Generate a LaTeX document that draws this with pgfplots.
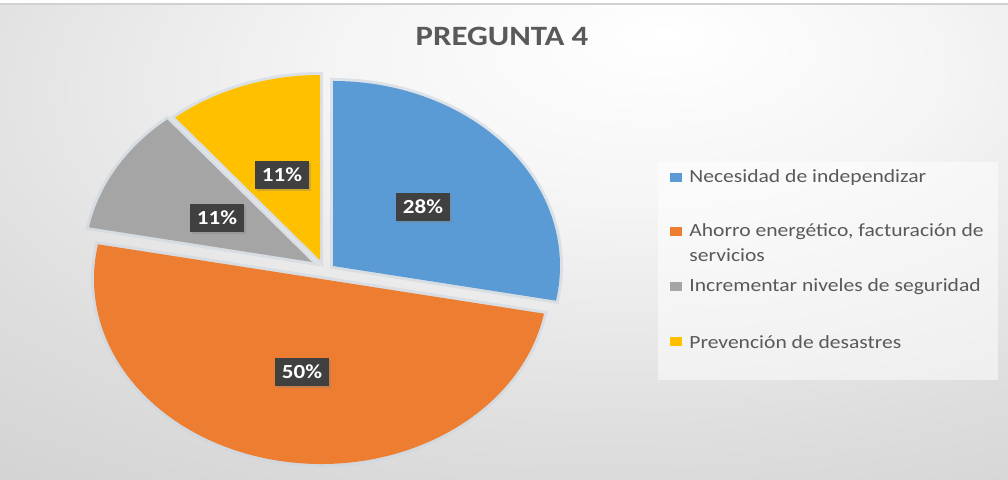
\documentclass[border=0pt]{standalone}
\usepackage{pgfplots}
\pgfplotsset{compat=1.18}
\usepackage{pgfplotstable}
\usepackage{fontspec}
\setmainfont{Carlito}
\usetikzlibrary{shadows}
\definecolor{cBlue}{HTML}{5B9BD5}
\definecolor{cOrange}{HTML}{ED7D31}
\definecolor{cGray}{HTML}{A5A5A5}
\definecolor{cYellow}{HTML}{FFC000}
\definecolor{txt}{HTML}{595959}
\definecolor{lbl}{HTML}{404040}
\definecolor{halo}{HTML}{CDD6DF}
\pgfdeclareradialshading{bgshade}{\pgfpoint{8bp}{22bp}}{color(0bp)=(white); color(15bp)=(white!96!black); color(35bp)=(white!87!black); color(55bp)=(white!80!black); color(100bp)=(white!77!black)}

% pie data (percent)
\pgfplotstableread{
slice value
1 28
2 50
3 11
4 11
}\piedata

\newcommand\slice[5]{%
  \fill[#1, preaction={draw=halo, line width=3pt, opacity=0.6}]
    (axis cs:#2,#3) -- ++(#4:113.5pt and 92.5pt)
    arc[start angle=#4, end angle=#5, x radius=113.5pt, y radius=92.5pt] -- cycle;}

\tikzset{lbllabel/.style={fill=lbl, text=white, font=\fontsize{10}{12}\selectfont\bfseries,
  inner xsep=3.5pt, inner ysep=0pt, minimum height=14pt,
  drop shadow={shadow xshift=0.8pt, shadow yshift=-0.8pt, opacity=0.35}},
  legtext/.style={anchor=west, text=txt, font=\fontsize{9.3}{11}\selectfont, inner sep=0pt}}

\begin{document}
\begin{tikzpicture}
\pgfplotstablegetelem{0}{value}\of\piedata\let\vA\pgfplotsretval
\pgfplotstablegetelem{1}{value}\of\piedata\let\vB\pgfplotsretval
\pgfplotstablegetelem{2}{value}\of\piedata\let\vC\pgfplotsretval
\pgfplotstablegetelem{3}{value}\of\piedata\let\vD\pgfplotsretval
\pgfmathsetmacro\sA{90}
\pgfmathsetmacro\eA{\sA-3.6*\vA}
\pgfmathsetmacro\eB{\eA-3.6*\vB}
\pgfmathsetmacro\eC{\eB-3.6*\vC}
\pgfmathsetmacro\eD{\eC-3.6*\vD}
\begin{axis}[x=0.5pt, y=0.5pt, xmin=0, xmax=1008, ymin=0, ymax=480,
  hide axis, clip=false]
  \coordinate (BL) at (axis cs:0,0);
  \coordinate (TR) at (axis cs:1008,480);
  % background
  \shade[shading=bgshade] (axis cs:0,0) rectangle (axis cs:1008,476);
  \fill[white] (axis cs:0,476) rectangle (axis cs:1008,480);
  \draw[white!82!black, line width=0.6pt] (axis cs:0,476) -- (axis cs:1008,476);
  % title
  \node[text=txt, font=\fontsize{14}{16}\selectfont\bfseries] at (axis cs:502,444)
    {\scalebox{1.17}[1]{PREGUNTA 4}};
  % slices
  \slice{cBlue}{333}{214}{\sA}{\eA}
  \slice{cOrange}{321}{201}{\eA}{\eB}
  \slice{cGray}{312}{218}{\eB}{\eC}
  \slice{cYellow}{320}{220}{\eC}{\eD}
  % data labels
  \node[lbllabel] at (axis cs:423,273) {\scalebox{1.15}[1]{28\%}};
  \node[lbllabel] at (axis cs:302,108) {\scalebox{1.15}[1]{50\%}};
  \node[lbllabel] at (axis cs:217,262) {\scalebox{1.15}[1]{11\%}};
  \node[lbllabel] at (axis cs:282,305) {\scalebox{1.15}[1]{11\%}};
  % legend
  \fill[white, opacity=0.5] (axis cs:658,100) rectangle (axis cs:998,318);
  \fill[cBlue]   (axis cs:670,298) rectangle (axis cs:682,307);
  \fill[cOrange] (axis cs:670,244) rectangle (axis cs:682,253);
  \fill[cGray]   (axis cs:670,189) rectangle (axis cs:682,198);
  \fill[cYellow] (axis cs:670,134) rectangle (axis cs:682,143);
  \node[legtext] at (axis cs:689,302) {\scalebox{1.16}[1]{Necesidad de independizar}};
  \node[legtext] at (axis cs:689,248) {\scalebox{1.16}[1]{Ahorro energético, facturación de}};
  \node[legtext] at (axis cs:689,225) {\scalebox{1.16}[1]{servicios}};
  \node[legtext] at (axis cs:689,193) {\scalebox{1.16}[1]{Incrementar niveles de seguridad}};
  \node[legtext] at (axis cs:689,138) {\scalebox{1.16}[1]{Prevención de desastres}};
\end{axis}
\pgfresetboundingbox
\path[use as bounding box] (BL) rectangle (TR);
\end{tikzpicture}
\end{document}
